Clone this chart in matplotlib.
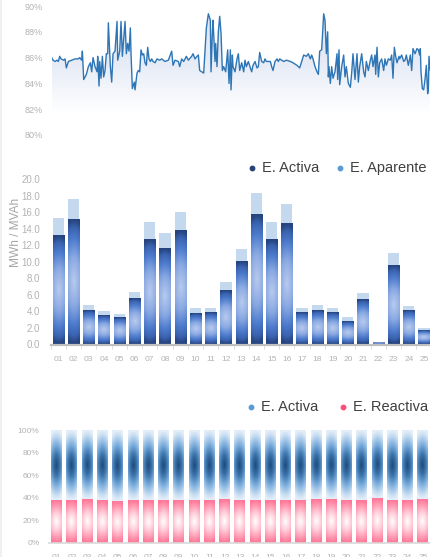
import numpy as np
import matplotlib
matplotlib.use('Agg')
import matplotlib.pyplot as plt
from matplotlib.colors import LinearSegmentedColormap
from matplotlib.lines import Line2D

# --- factor de potencia horario (%) ---
hora = [0, 2, 5, 8, 10, 12, 14, 18, 20, 22, 25, 30, 35, 40, 42, 45, 46, 48, 52, 55,
        58, 60, 62, 65, 68, 69, 71, 72, 74, 76, 78, 80, 82, 84, 85, 88, 90, 92, 95, 98,
        99, 102, 104, 106, 108, 110, 112, 114, 116, 118, 119, 121, 124, 125, 128, 130, 132, 134, 136, 138,
        140, 142, 144, 146, 148, 150, 152, 155, 158, 162, 165, 170, 175, 180, 182, 185, 190, 192, 195, 198,
        202, 205, 210, 212, 215, 218, 220, 222, 225, 228, 230, 232, 235, 238, 239, 241, 242, 245, 246, 248,
        250, 252, 254, 256, 258, 261, 264, 266, 268, 269, 271, 272, 275, 278, 280, 282, 285, 288, 290, 292,
        295, 298, 300, 302, 305, 308, 310, 312, 315, 318, 320, 322, 328, 330, 332, 335, 338, 340, 342, 348,
        352, 358, 362, 368, 372, 375, 378, 382, 385, 388, 390, 392, 395, 398, 400, 402, 405, 408, 410, 412,
        414, 415, 416, 418, 420, 422, 425, 428, 429, 431, 432, 435, 438, 440, 442, 445, 448, 450, 452, 455,
        458, 460, 462, 465, 468, 470, 472, 475, 478, 480, 482, 485, 486, 488, 490, 492, 495, 498, 500, 502,
        505, 508, 510, 512, 514, 516, 518, 521, 522, 525, 528, 530, 532, 535, 538, 540, 542, 545, 548, 550,
        552, 553, 554, 556, 558, 560, 562, 564, 565, 566, 568, 569]
fp = [86.0, 85.8, 85.7, 85.8, 85.7, 86.1, 85.9, 85.8, 85.9, 85.2, 85.7, 85.8, 85.9, 85.9, 86.0, 85.8, 86.5, 84.3, 84.7, 85.3,
      85.6, 84.9, 86.0, 85.3, 84.9, 86.1, 83.8, 85.7, 84.4, 86.1, 84.5, 85.0, 86.3, 86.3, 88.7, 85.3, 84.1, 86.3, 86.5, 88.8,
      85.8, 86.5, 88.8, 86.1, 87.4, 88.8, 86.3, 87.1, 86.5, 88.3, 86.3, 83.6, 84.1, 83.5, 84.8, 85.0, 84.9, 86.6, 86.2, 86.3,
      85.6, 85.4, 86.8, 85.9, 85.7, 85.9, 85.7, 85.6, 85.9, 85.8, 85.9, 85.7, 85.8, 86.5, 85.4, 85.8, 85.7, 85.3, 85.9, 85.7,
      86.1, 85.8, 86.1, 86.3, 85.9, 86.1, 86.2, 85.0, 84.9, 84.8, 86.6, 88.3, 89.4, 88.9, 84.9, 87.9, 88.9, 85.7, 87.1, 85.3,
      88.0, 89.2, 87.9, 85.0, 85.3, 84.9, 86.6, 84.0, 86.6, 83.5, 86.2, 85.3, 84.9, 85.9, 86.3, 85.0, 85.6, 84.9, 85.8, 85.3,
      85.7, 85.2, 84.9, 85.4, 85.7, 85.2, 85.3, 86.4, 85.7, 85.6, 85.9, 85.7, 85.7, 85.3, 85.0, 85.7, 85.9, 85.7, 85.9, 85.7,
      85.8, 85.7, 85.6, 85.4, 85.2, 85.7, 86.2, 86.1, 86.3, 85.9, 86.2, 85.9, 85.3, 84.9, 84.7, 86.5, 86.6, 89.4, 88.9, 86.3,
      88.0, 84.5, 85.3, 84.0, 85.3, 84.4, 84.9, 86.3, 84.3, 86.6, 83.9, 85.3, 86.2, 84.5, 85.3, 84.0, 83.7, 84.8, 86.3, 84.3,
      86.3, 84.1, 85.3, 86.3, 84.9, 84.5, 85.7, 85.0, 85.8, 86.2, 85.3, 86.2, 84.7, 86.8, 84.5, 85.6, 85.9, 85.0, 85.9, 85.4,
      85.9, 85.8, 86.2, 84.4, 86.8, 86.1, 85.6, 86.1, 85.9, 86.2, 85.7, 85.8, 86.2, 85.4, 86.2, 85.0, 86.7, 86.3, 86.7, 86.6,
      86.2, 86.7, 84.9, 83.6, 83.5, 84.3, 85.4, 83.2, 83.6, 86.1, 85.0, 86.3]

# --- energia diaria ---
dias = ['01', '02', '03', '04', '05', '06', '07', '08', '09', '10', '11', '12', '13',
        '14', '15', '16', '17', '18', '19', '20', '21', '22', '23', '24', '25']
e_activa = [13.1, 15.1, 4.1, 3.5, 3.2, 5.5, 12.7, 11.6, 13.8, 3.7, 3.8, 6.5, 10.0,
            15.7, 12.7, 14.6, 3.8, 4.1, 3.8, 2.7, 5.4, 0.2, 9.5, 4.1, 1.6]
e_aparente = [15.3, 17.6, 4.8, 4.0, 3.7, 6.3, 14.8, 13.5, 16.0, 4.4, 4.4, 7.6, 11.6,
              18.3, 14.8, 17.0, 4.4, 4.8, 4.4, 3.3, 6.2, 0.25, 11.1, 4.7, 2.0]

# --- reparto activa / reactiva (%) ---
pct_reactiva = [38.0, 38.0, 38.9, 38.0, 37.1, 38.0, 38.0, 38.0, 38.0, 38.0, 38.0, 38.9, 38.0,
                38.0, 38.0, 38.0, 38.0, 38.9, 38.9, 38.0, 38.0, 39.8, 38.0, 38.0, 38.9]
pct_activa = [100 - r for r in pct_reactiva]

W, H = 431, 557
TICK = '#b3b3b3'
FONT = 'Liberation Sans'
plt.rcParams['font.family'] = [FONT, 'DejaVu Sans']

fig = plt.figure(figsize=(W / 100, H / 100), dpi=100)


def px_axes(left, bottom, right, top):
    return fig.add_axes([left / W, 1 - bottom / H, (right - left) / W, (bottom - top) / H])


def radial(sx, n=80):
    u = np.linspace(-1, 1, n)
    U, T = np.meshgrid(u, u)
    return np.clip(np.sqrt((sx * U) ** 2 + T ** 2), 0, 1)


def paint_bars(ax, bars, cmap, sx):
    img = radial(sx)
    for b in bars:
        x0, y0 = b.get_x(), b.get_y()
        ax.imshow(img, extent=[x0, x0 + b.get_width(), y0, y0 + b.get_height()],
                  cmap=cmap, vmin=0, vmax=1, aspect='auto', interpolation='bilinear', zorder=2)


def clean(ax):
    for s in ['top', 'right', 'left']:
        ax.spines[s].set_visible(False)
    ax.tick_params(axis='y', length=0, labelcolor=TICK)


def legend_item(x, y, color, label):
    fig.add_artist(Line2D([x / W], [1 - y / H], marker='o', markersize=3.2, color=color,
                          linestyle='none', transform=fig.transFigure))
    fig.text((x + 10) / W, 1 - y / H, label, fontsize=10.5, color='#404040',
             va='center', ha='left')


# ---------- top: line ----------
ax1 = px_axes(51.7, 135, 431, 6)
ax1.plot(hora, fp, color='#2e75b6', lw=1.0, zorder=3)
poly = ax1.fill_between(hora, fp, 81.7, color='none')
fill_cmap = LinearSegmentedColormap.from_list('fill', ['#ffffff', '#e6ebf6', '#dde4f3'])
grad = np.linspace(0, 1, 256).reshape(-1, 1)
im = ax1.imshow(grad, extent=[min(hora), max(hora), 81.7, 89.5], origin='lower',
                cmap=fill_cmap, aspect='auto', zorder=1)
im.set_clip_path(poly.get_paths()[0], transform=ax1.transData)
ax1.set_xlim(min(hora), max(hora))
ax1.set_ylim(80, 90)
ax1.set_yticks(range(80, 91, 2))
ax1.set_yticklabels([f'{v}%' for v in range(80, 91, 2)], fontsize=6.6)
ax1.tick_params(axis='y', pad=6.5)
ax1.set_xticks([])
clean(ax1)
ax1.spines['bottom'].set_visible(False)

# ---------- middle: energy bars ----------
ax2 = px_axes(50.7, 344.5, 431.6, 179.3)
xs = np.arange(1, len(dias) + 1)
ax2.bar(xs, e_aparente, width=0.74, color='#c5d9ee', zorder=1)
act_bars = ax2.bar(xs, e_activa, width=0.74, color='#4472c4', zorder=1)
act_cmap = LinearSegmentedColormap.from_list(
    'act', [(0, '#b9cbee'), (0.4, '#8aa9e2'), (0.7, '#4d7bcc'), (0.88, '#3a63b0'), (1, '#26447f')])
paint_bars(ax2, act_bars, act_cmap, 0.35)
ax2.set_xlim(0.5, len(dias) + 0.5)
ax2.set_ylim(0, 20)
ax2.set_yticks(np.arange(0, 21, 2))
ax2.set_yticklabels([f'{v:.1f}' for v in np.arange(0, 21, 2)], fontsize=7)
ax2.tick_params(axis='y', pad=7.7)
ax2.set_xticks(xs)
ax2.set_xticklabels(dias, fontsize=6, color=TICK)
ax2.set_xticks(np.arange(0.5, len(dias) + 1, 1), minor=True)
ax2.tick_params(axis='x', which='major', length=0, pad=8)
ax2.tick_params(axis='x', which='minor', length=3, color='#d9d9d9')
clean(ax2)
ax2.spines['bottom'].set_color('#c0c0c0')
ax2.spines['bottom'].set_linewidth(1.6)
ax2.spines['bottom'].set_zorder(5)
fig.text(16.5 / W, 1 - 232 / H, 'MWh / MVAh', rotation=90, fontsize=8.6, color='#a6a6a6',
         ha='center', va='center')
legend_item(252, 168, '#264478', 'E. Activa')
legend_item(340, 168, '#5b9bd5', 'E. Aparente')

# ---------- bottom: 100% stacked ----------
ax3 = px_axes(49.1, 542.7, 430.6, 430.3)
reac_bars = ax3.bar(xs, pct_reactiva, width=0.72, color='#ff7899', zorder=1)
act_pct_bars = ax3.bar(xs, pct_activa, width=0.72, bottom=pct_reactiva, color='#5b9bd5', zorder=1)
blue_cmap = LinearSegmentedColormap.from_list(
    'blue', [(0, '#1d4a78'), (0.3, '#3a72aa'), (0.6, '#7fb0de'), (0.85, '#c2daf0'), (1, '#e3eef9')])
pink_cmap = LinearSegmentedColormap.from_list(
    'pink', [(0, '#ffffff'), (0.4, '#ffd0dc'), (0.75, '#ff9ab3'), (1, '#ff7899')])
paint_bars(ax3, reac_bars, pink_cmap, 0.5)
paint_bars(ax3, act_pct_bars, blue_cmap, 0.5)
ax3.set_xlim(0.5, len(dias) + 0.5)
ax3.set_ylim(0, 100)
ax3.set_yticks(range(0, 101, 20))
ax3.set_yticklabels([f'{v}%' for v in range(0, 101, 20)], fontsize=6)
ax3.tick_params(axis='y', pad=7)
ax3.set_xticks(xs)
ax3.set_xticklabels(dias, fontsize=6, color=TICK)
ax3.tick_params(axis='x', length=0, pad=8)
clean(ax3)
ax3.spines['bottom'].set_color('#d9d9d9')
ax3.spines['bottom'].set_linewidth(1.2)
legend_item(251, 407, '#5b9bd5', 'E. Activa')
legend_item(343, 407, '#ff4d79', 'E. Reactiva')

fig.add_artist(Line2D([1 / W, 1 / W], [0, 1], color='#eeeeee', lw=1.2, transform=fig.transFigure))

fig.savefig('out.png', dpi=100)
